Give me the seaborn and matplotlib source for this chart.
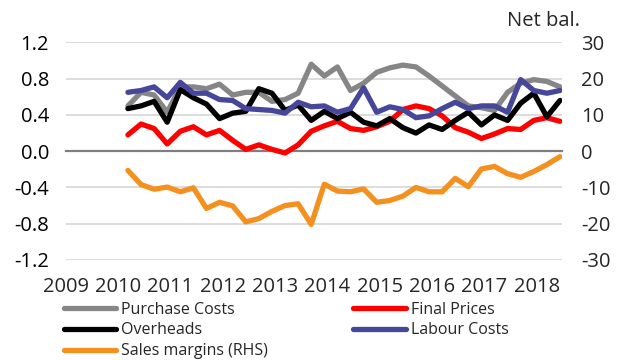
import matplotlib
matplotlib.use("Agg")
import matplotlib.pyplot as plt
import pandas as pd
import seaborn as sns

# quarterly survey balances, 2010Q1 - 2018Q2
quarters = pd.period_range("2010Q1", "2018Q2", freq="Q")

purchase_costs = [0.50, 0.65, 0.62, 0.43, 0.71, 0.71, 0.69, 0.74, 0.62, 0.65,
                  0.65, 0.55, 0.57, 0.64, 0.96, 0.83, 0.93, 0.67, 0.75, 0.87,
                  0.92, 0.95, 0.93, 0.83, 0.72, 0.61, 0.50, 0.48, 0.45, 0.65,
                  0.75, 0.79, 0.77, 0.71]
final_prices = [0.18, 0.30, 0.25, 0.08, 0.22, 0.27, 0.18, 0.23, 0.12, 0.02,
                0.07, 0.02, -0.02, 0.07, 0.22, 0.28, 0.33, 0.25, 0.23, 0.27,
                0.33, 0.46, 0.50, 0.47, 0.39, 0.26, 0.21, 0.14, 0.19, 0.25,
                0.24, 0.34, 0.37, 0.33]
overheads = [0.47, 0.50, 0.55, 0.32, 0.68, 0.59, 0.52, 0.36, 0.42, 0.44,
             0.69, 0.64, 0.45, 0.51, 0.34, 0.44, 0.36, 0.43, 0.32, 0.28,
             0.36, 0.26, 0.20, 0.29, 0.24, 0.34, 0.43, 0.29, 0.40, 0.34,
             0.53, 0.64, 0.38, 0.56]
labour_costs = [0.65, 0.67, 0.71, 0.59, 0.76, 0.64, 0.64, 0.57, 0.56, 0.47,
                0.46, 0.45, 0.42, 0.54, 0.49, 0.50, 0.43, 0.47, 0.70, 0.43,
                0.49, 0.46, 0.37, 0.39, 0.47, 0.54, 0.47, 0.50, 0.50, 0.43,
                0.79, 0.67, 0.64, 0.67]
# right hand scale, net balance
sales_margins = [-5.3, -9.2, -10.5, -9.9, -11.2, -10.1, -15.8, -14.1, -15.1, -19.5,
                 -18.6, -16.6, -15.0, -14.5, -20.2, -9.1, -11.0, -11.2, -10.4, -14.1,
                 -13.6, -12.4, -10.0, -11.2, -11.2, -7.5, -9.8, -4.9, -4.2, -6.2,
                 -7.2, -5.6, -3.7, -1.5]

year_ticks = list(range(2009, 2019))
left_ticks = [-1.2, -0.8, -0.4, 0.0, 0.4, 0.8, 1.2]
right_ticks = [-30, -20, -10, 0, 10, 20, 30]

sns.set_style("white")
plt.rcParams["font.family"] = ["Open Sans", "DejaVu Sans"]
plt.rcParams["axes.unicode_minus"] = False

df = pd.DataFrame({
    "t": quarters.year + (quarters.quarter - 1) / 4 + 0.19,
    "Purchase Costs": purchase_costs,
    "Final Prices": final_prices,
    "Overheads": overheads,
    "Labour Costs": labour_costs,
    "Sales margins (RHS)": sales_margins,
})

colors = {
    "Purchase Costs": "#868686",
    "Final Prices": "#ff0000",
    "Overheads": "#000000",
    "Labour Costs": "#46469a",
    "Sales margins (RHS)": "#f4901e",
}
lw = 3.8
fs = 14.5

fig = plt.figure(figsize=(6.19, 3.6), dpi=100)
ax = fig.add_axes([0.106, 0.278, 0.802, 0.604])
ax2 = ax.twinx()

for name in ["Purchase Costs", "Final Prices", "Overheads", "Labour Costs"]:
    sns.lineplot(data=df, x="t", y=name, ax=ax, color=colors[name],
                 linewidth=lw, label=name, legend=False)
sns.lineplot(data=df, x="t", y="Sales margins (RHS)", ax=ax2,
             color=colors["Sales margins (RHS)"], linewidth=lw,
             label="Sales margins (RHS)", legend=False)

ax.set_xlim(2009, 2018.48)
ax.set_ylim(-1.2, 1.2)
ax2.set_ylim(-30, 30)
ax.set_xlabel("")
ax.set_ylabel("")
ax2.set_ylabel("")

# gridlines
ax.set_yticks(left_ticks)
ax.set_yticklabels([f"{v:.1f}" for v in left_ticks])
ax.grid(axis="y", color="#d9d9d9", linewidth=1.3)
ax.grid(axis="x", visible=False)
ax.set_axisbelow(True)
ax.tick_params(axis="y", length=0, pad=12, labelsize=fs, colors="#000000")

ax2.set_yticks(right_ticks)
ax2.tick_params(axis="y", length=0, pad=14, labelsize=fs)
for s in ax2.spines.values():
    s.set_visible(False)

# zero line with year tick marks
for side in ["top", "left", "right"]:
    ax.spines[side].set_visible(False)
ax.spines["bottom"].set_position(("data", 0))
ax.spines["bottom"].set_color("#7f7f7f")
ax.spines["bottom"].set_linewidth(1.6)
ax.spines["bottom"].set_zorder(1)
ax.set_xticks(year_ticks)
ax.tick_params(axis="x", direction="out", length=5, width=1.3,
               color="#333333", labelbottom=False)

sec = ax.secondary_xaxis("bottom")
sec.set_xticks(year_ticks)
sec.tick_params(length=0, pad=12, labelsize=fs)
sec.spines["bottom"].set_visible(False)

ax.text(1.036, 1.10, "Net bal.", transform=ax.transAxes, ha="right",
        va="center", fontsize=fs)

h1, l1 = ax.get_legend_handles_labels()
h2, l2 = ax2.get_legend_handles_labels()
hd = dict(zip(l1 + l2, h1 + h2))
order = ["Purchase Costs", "Overheads", "Sales margins (RHS)",
         "Final Prices", "Labour Costs"]
fig.legend([hd[k] for k in order], order, ncol=2, loc="upper left",
           bbox_to_anchor=(0.1026, 0.162), frameon=False, fontsize=11.5,
           handlelength=3.3, handletextpad=0.3, columnspacing=5.35,
           labelspacing=0.3, borderpad=0, borderaxespad=0)

fig.savefig("out.png", dpi=100)
